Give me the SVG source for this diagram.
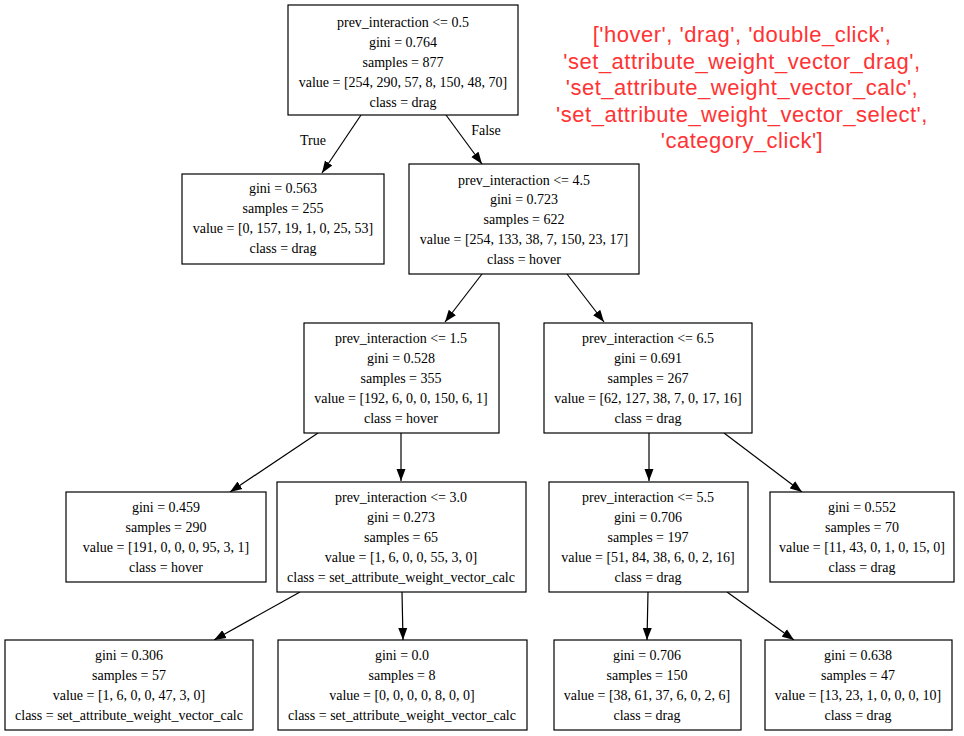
<svg xmlns="http://www.w3.org/2000/svg" width="964" height="736" viewBox="0 0 964 736">
<style>
.n rect{fill:#fff;stroke:#000;stroke-width:1.2}
.n text{font-family:"Liberation Serif","Times New Roman",serif;font-size:14px;text-anchor:middle;fill:#000}
.e line{stroke:#000;stroke-width:1.2}
.lbl{font-family:"Liberation Serif","Times New Roman",serif;font-size:14px;fill:#000;text-anchor:middle}
.red{font-family:"Liberation Sans",Arial,sans-serif;font-size:22px;letter-spacing:0.5px;fill:#ff3333;text-anchor:middle}
</style>
<defs>
<marker id="ah" viewBox="0 0 12 10" refX="12" refY="5" markerWidth="12" markerHeight="10" markerUnits="userSpaceOnUse" orient="auto">
<path d="M0,0.5 L12,5 L0,9.5 Z" fill="#000"/>
</marker>
</defs>
<rect width="964" height="736" fill="#fff"/>
<g id="connectors" class="e">
<line x1="361" y1="115" x2="322" y2="173" marker-end="url(#ah)"/>
<line x1="446" y1="115" x2="482" y2="164" marker-end="url(#ah)"/>
<line x1="482" y1="274" x2="445" y2="322" marker-end="url(#ah)"/>
<line x1="567" y1="274" x2="604" y2="322" marker-end="url(#ah)"/>
<line x1="318" y1="433" x2="230" y2="492" marker-end="url(#ah)"/>
<line x1="401" y1="433" x2="401" y2="481" marker-end="url(#ah)"/>
<line x1="649" y1="433" x2="649" y2="481" marker-end="url(#ah)"/>
<line x1="724" y1="433" x2="802" y2="492" marker-end="url(#ah)"/>
<line x1="300" y1="592" x2="214" y2="640" marker-end="url(#ah)"/>
<line x1="402" y1="592" x2="403" y2="640" marker-end="url(#ah)"/>
<line x1="648" y1="592" x2="647" y2="640" marker-end="url(#ah)"/>
<line x1="727" y1="592" x2="794" y2="640" marker-end="url(#ah)"/>
<text class="lbl" x="313" y="145">True</text>
<text class="lbl" x="486" y="135">False</text>
</g>
<g id="n0" class="n">
<rect x="288" y="5" width="230" height="110"/>
<text x="403" y="27">prev_interaction &lt;= 0.5</text>
<text x="403" y="47">gini = 0.764</text>
<text x="403" y="67">samples = 877</text>
<text x="403" y="87">value = [254, 290, 57, 8, 150, 48, 70]</text>
<text x="403" y="107">class = drag</text>
</g>
<g id="n1" class="n">
<rect x="182" y="174" width="202" height="90"/>
<text x="283" y="193">gini = 0.563</text>
<text x="283" y="213">samples = 255</text>
<text x="283" y="233">value = [0, 157, 19, 1, 0, 25, 53]</text>
<text x="283" y="253">class = drag</text>
</g>
<g id="n2" class="n">
<rect x="409" y="164" width="230" height="110"/>
<text x="524" y="185">prev_interaction &lt;= 4.5</text>
<text x="524" y="204">gini = 0.723</text>
<text x="524" y="224">samples = 622</text>
<text x="524" y="244">value = [254, 133, 38, 7, 150, 23, 17]</text>
<text x="524" y="264">class = hover</text>
</g>
<g id="n3" class="n">
<rect x="304" y="323" width="195" height="110"/>
<text x="401" y="343">prev_interaction &lt;= 1.5</text>
<text x="401" y="363">gini = 0.528</text>
<text x="401" y="383">samples = 355</text>
<text x="401" y="403">value = [192, 6, 0, 0, 150, 6, 1]</text>
<text x="401" y="423">class = hover</text>
</g>
<g id="n4" class="n">
<rect x="544" y="323" width="208" height="110"/>
<text x="648" y="343">prev_interaction &lt;= 6.5</text>
<text x="648" y="363">gini = 0.691</text>
<text x="648" y="383">samples = 267</text>
<text x="648" y="403">value = [62, 127, 38, 7, 0, 17, 16]</text>
<text x="648" y="423">class = drag</text>
</g>
<g id="n5" class="n">
<rect x="66" y="492" width="200" height="90"/>
<text x="166" y="512">gini = 0.459</text>
<text x="166" y="532">samples = 290</text>
<text x="166" y="552">value = [191, 0, 0, 0, 95, 3, 1]</text>
<text x="166" y="572">class = hover</text>
</g>
<g id="n6" class="n">
<rect x="277" y="482" width="249" height="110"/>
<text x="401" y="502">prev_interaction &lt;= 3.0</text>
<text x="401" y="522">gini = 0.273</text>
<text x="401" y="542">samples = 65</text>
<text x="401" y="562">value = [1, 6, 0, 0, 55, 3, 0]</text>
<text x="401" y="582">class = set_attribute_weight_vector_calc</text>
</g>
<g id="n7" class="n">
<rect x="549" y="482" width="199" height="110"/>
<text x="648" y="502">prev_interaction &lt;= 5.5</text>
<text x="648" y="522">gini = 0.706</text>
<text x="648" y="542">samples = 197</text>
<text x="648" y="562">value = [51, 84, 38, 6, 0, 2, 16]</text>
<text x="648" y="582">class = drag</text>
</g>
<g id="n8" class="n">
<rect x="770" y="492" width="184" height="90"/>
<text x="862" y="512">gini = 0.552</text>
<text x="862" y="532">samples = 70</text>
<text x="862" y="552">value = [11, 43, 0, 1, 0, 15, 0]</text>
<text x="862" y="572">class = drag</text>
</g>
<g id="n9" class="n">
<rect x="5" y="640" width="248" height="90"/>
<text x="129" y="660">gini = 0.306</text>
<text x="129" y="680">samples = 57</text>
<text x="129" y="700">value = [1, 6, 0, 0, 47, 3, 0]</text>
<text x="129" y="720">class = set_attribute_weight_vector_calc</text>
</g>
<g id="n10" class="n">
<rect x="278" y="640" width="249" height="90"/>
<text x="402" y="660">gini = 0.0</text>
<text x="402" y="680">samples = 8</text>
<text x="402" y="700">value = [0, 0, 0, 0, 8, 0, 0]</text>
<text x="402" y="720">class = set_attribute_weight_vector_calc</text>
</g>
<g id="n11" class="n">
<rect x="554" y="640" width="187" height="90"/>
<text x="647" y="660">gini = 0.706</text>
<text x="647" y="680">samples = 150</text>
<text x="647" y="700">value = [38, 61, 37, 6, 0, 2, 6]</text>
<text x="647" y="720">class = drag</text>
</g>
<g id="n12" class="n">
<rect x="765" y="640" width="187" height="90"/>
<text x="858" y="660">gini = 0.638</text>
<text x="858" y="680">samples = 47</text>
<text x="858" y="700">value = [13, 23, 1, 0, 0, 0, 10]</text>
<text x="858" y="720">class = drag</text>
</g>
<g id="legend">
<text class="red" x="742" y="42">['hover', 'drag', 'double_click',</text>
<text class="red" x="742" y="68.5">'set_attribute_weight_vector_drag',</text>
<text class="red" x="742" y="95">'set_attribute_weight_vector_calc',</text>
<text class="red" x="742" y="121.5">'set_attribute_weight_vector_select',</text>
<text class="red" x="742" y="148">'category_click']</text>
</g>
</svg>
